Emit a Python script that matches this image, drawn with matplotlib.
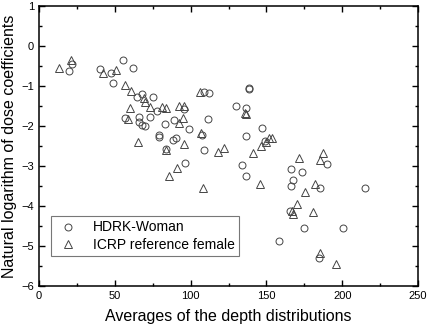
import matplotlib
matplotlib.use("Agg")
import matplotlib.pyplot as plt
from matplotlib.ticker import MultipleLocator

plt.rcParams["font.family"] = ["Liberation Sans", "DejaVu Sans"]

# HDRK-Woman (circles)
hdrk_x = [19.9, 22.0, 40.5, 47.8, 49.1, 55.5, 61.8, 64.7, 68.0, 75.0,
          77.9, 95.9, 109.1, 112.4, 57.0, 66.2, 66.2, 68.0, 69.7, 73.5,
          82.9, 88.9, 99.0, 111.5, 79.4, 79.0, 88.5, 90.4, 107.3, 83.8,
          108.6, 96.1, 138.8, 138.8, 130.0, 136.6, 147.2, 136.8, 148.9, 134.2,
          136.6, 190.0, 166.3, 173.5, 167.5, 166.3, 185.1, 214.8, 165.8, 174.6,
          200.5, 158.1, 184.8]
hdrk_y = [-0.63, -0.46, -0.58, -0.68, -0.93, -0.35, -0.55, -1.27, -1.20, -1.28,
          -1.62, -1.58, -1.16, -1.18, -1.81, -1.78, -1.89, -1.98, -1.99, -1.77,
          -1.96, -1.85, -2.08, -1.83, -2.23, -2.27, -2.35, -2.31, -2.23, -2.58,
          -2.60, -2.93, -1.06, -1.08, -1.49, -1.56, -2.06, -2.24, -2.37, -2.98,
          -3.25, -2.95, -3.08, -3.14, -3.35, -3.50, -3.54, -3.54, -4.12, -4.55,
          -4.54, -4.87, -5.30]

# ICRP reference female (triangles)
icrp_x = [13.5, 21.2, 42.3, 50.9, 56.8, 61.0, 69.1, 70.2, 73.0, 81.2,
          84.0, 92.2, 95.6, 106.5, 59.8, 58.5, 92.2, 95.1, 106.9, 95.4,
          65.4, 83.8, 118.0, 122.0, 91.3, 85.6, 108.1, 136.8, 136.2, 151.6,
          153.9, 150.0, 146.4, 141.1, 146.0, 171.8, 187.3, 185.6, 181.9, 175.3,
          170.3, 167.0, 167.5, 180.5, 185.2, 196.2]
icrp_y = [-0.56, -0.35, -0.67, -0.60, -0.98, -1.12, -1.30, -1.39, -1.52, -1.53,
          -1.56, -1.50, -1.51, -1.14, -1.56, -1.83, -1.92, -1.79, -2.18, -2.45,
          -2.39, -2.60, -2.64, -2.56, -3.06, -3.26, -3.55, -1.70, -1.67, -2.29,
          -2.31, -2.41, -2.50, -2.68, -3.46, -2.81, -2.68, -2.84, -3.45, -3.66,
          -3.95, -4.13, -4.21, -4.15, -5.18, -5.45]

fig = plt.figure(figsize=(4.28, 3.28), dpi=100)
ax = fig.add_axes([39 / 428, 1 - 286 / 328, 379 / 428, 280 / 328])

mk = dict(linestyle="none", markerfacecolor="none", markeredgecolor="#444444",
          markeredgewidth=0.7)
ax.plot(hdrk_x, hdrk_y, "o", markersize=5, label="HDRK-Woman", **mk)
ax.plot(icrp_x, icrp_y, "^", markersize=5.5, label="ICRP reference female", **mk)

ax.set_xlim(0, 250)
ax.set_ylim(-6, 1)
ax.xaxis.set_major_locator(MultipleLocator(50))
ax.xaxis.set_minor_locator(MultipleLocator(25))
ax.yaxis.set_major_locator(MultipleLocator(1))
ax.yaxis.set_minor_locator(MultipleLocator(0.5))
ax.tick_params(which="both", direction="in", top=True, right=True, labelsize=8)
ax.tick_params(which="major", length=4.5, width=1)
ax.tick_params(which="minor", length=2.5, width=1)
for s in ax.spines.values():
    s.set_linewidth(1.1)

ax.set_xlabel("Averages of the depth distributions", fontsize=11.5, labelpad=6)
ax.set_ylabel("Natural logarithm of dose coefficients", fontsize=11.5, labelpad=3)

leg = ax.legend(loc="lower left", bbox_to_anchor=(0.032, 0.107), borderaxespad=0,
                fontsize=10, fancybox=False, handlelength=1.8, handletextpad=0.9,
                labelspacing=0.25, borderpad=0.3)
leg.get_frame().set_edgecolor("#555555")
leg.get_frame().set_linewidth(0.8)

fig.savefig("out.png", dpi=100)
